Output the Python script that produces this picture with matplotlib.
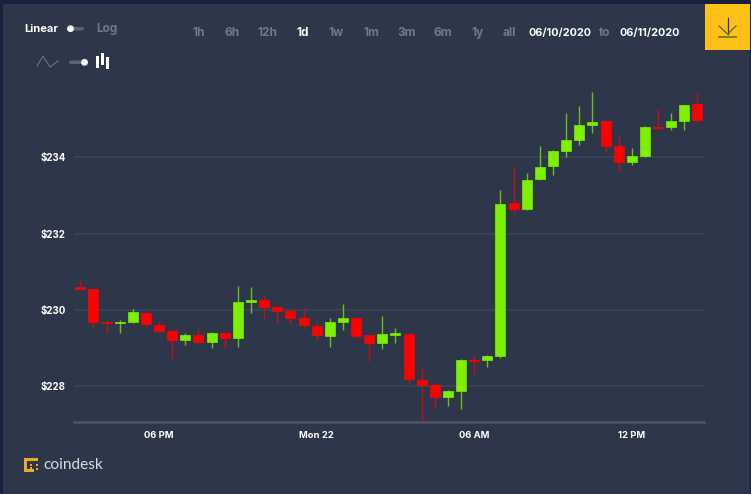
import matplotlib
matplotlib.use('Agg')
import matplotlib.pyplot as plt
from matplotlib.patches import Rectangle, FancyBboxPatch, Circle

plt.rcParams['font.family'] = ['Inter', 'DejaVu Sans']

# 30 minute candles, ETH/USD
opens = [230.61, 230.55, 229.69, 229.65, 229.68, 229.93, 229.61, 229.45,
         229.21, 229.34, 229.15, 229.39, 229.27, 230.22, 230.25, 230.07,
         229.97, 229.79, 229.59, 229.33, 229.69, 229.78, 229.34, 229.14,
         229.35, 229.37, 228.17, 228.03, 227.71, 227.88, 228.69, 228.68,
         228.79, 232.81, 232.64, 233.43, 233.77, 234.18, 234.47, 234.86,
         234.95, 234.29, 233.88, 234.05, 234.80, 234.80, 234.96, 235.40]
closes = [230.55, 229.69, 229.66, 229.69, 229.94, 229.63, 229.45, 229.21,
          229.35, 229.15, 229.39, 229.27, 230.22, 230.25, 230.08, 229.98,
          229.80, 229.60, 229.34, 229.69, 229.78, 229.32, 229.14, 229.38,
          229.39, 228.18, 228.03, 227.71, 227.88, 228.69, 228.67, 228.79,
          232.78, 232.64, 233.41, 233.76, 234.17, 234.46, 234.86, 234.93,
          234.30, 233.88, 234.05, 234.80, 234.78, 234.95, 235.37, 234.98]
highs = [230.79, 230.55, 229.76, 229.73, 230.03, 229.97, 229.71, 229.50,
         229.40, 229.53, 229.42, 229.39, 230.63, 230.59, 230.39, 230.10,
         230.03, 230.03, 229.69, 229.79, 230.16, 229.81, 229.34, 229.84,
         229.53, 229.37, 228.51, 228.09, 227.90, 228.72, 228.79, 228.82,
         233.15, 233.77, 233.59, 234.30, 234.19, 235.17, 235.35, 235.71,
         234.95, 234.59, 234.24, 234.82, 235.27, 235.17, 235.37, 235.69]
lows = [230.55, 229.52, 229.40, 229.40, 229.66, 229.56, 229.43, 228.75,
        229.09, 229.14, 228.99, 229.00, 229.03, 229.91, 229.76, 229.66,
        229.64, 229.51, 229.21, 229.03, 229.48, 229.27, 228.67, 228.98,
        229.14, 228.06, 227.09, 227.39, 227.47, 227.41, 228.33, 228.50,
        228.74, 232.54, 232.62, 233.42, 233.54, 234.01, 234.32, 234.64,
        234.14, 233.64, 233.80, 234.02, 234.71, 234.72, 234.72, 234.94]

price_ticks = [228, 230, 232, 234]
time_ticks = [6, 18, 30, 42]
time_labels = ['06 PM', 'Mon 22', '06 AM', '12 PM']
ranges = ['1h', '6h', '12h', '1d', '1w', '1m', '3m', '6m', '1y', 'all']
range_x = [199, 232, 268, 303, 336, 371, 406.5, 443, 478, 509.5]

BG = '#2e374a'
EDGE = '#18203f'
GREEN = '#7cf000'
RED = '#ff0000'
MUTED = '#72778a'
YELLOW = '#fdc016'

W, H = 751, 494
fig = plt.figure(figsize=(W / 100, H / 100), dpi=100, facecolor=BG)

# Candles
ax = fig.add_axes([74 / W, 1 - 421.7 / H, 630 / W, 331.7 / H], facecolor='none')
for i in range(len(opens)):
    col = GREEN if closes[i] >= opens[i] else RED
    ax.vlines(i, lows[i], highs[i], color=col, lw=1, alpha=0.75, zorder=3)
    ax.bar(i, closes[i] - opens[i], bottom=opens[i], width=0.76, color=col,
           edgecolor=col, lw=0.5, zorder=4)

ax.set_xlim(-0.48, 47.5)
ax.set_ylim(227.07, 235.77)
ax.set_yticks(price_ticks)
ax.set_yticklabels(['$%d' % p for p in price_ticks])
ax.set_xticks(time_ticks)
ax.set_xticklabels(time_labels)
ax.tick_params(axis='y', length=0, labelsize=7, labelcolor='white', pad=6)
ax.tick_params(axis='x', length=0, labelsize=6.8, labelcolor='white', pad=6.5)
for lab in ax.get_xticklabels() + ax.get_yticklabels():
    lab.set_fontweight('bold')
ax.grid(axis='y', color='#3a4356', lw=1.4, zorder=1)
ax.set_axisbelow(True)
for s in ['top', 'left', 'right']:
    ax.spines[s].set_visible(False)
ax.spines['bottom'].set_color('#4f5566')
ax.spines['bottom'].set_linewidth(1.8)

# Controls and logo, in pixel coordinates
ui = fig.add_axes([0, 0, 1, 1], facecolor='none')
ui.set_xlim(0, W)
ui.set_ylim(H, 0)
ui.axis('off')

ui.add_patch(Rectangle((0, 0), W, 4.5, color=EDGE, lw=0))
ui.add_patch(Rectangle((0, 0), 3, H, color=EDGE, lw=0))
ui.add_patch(Rectangle((750, 0), 1, H, color=EDGE, lw=0))

# Download button
ui.add_patch(Rectangle((705, 4.5), 45, 45.5, color=YELLOW, lw=0))
ui.plot([727.5, 727.5], [18, 34], color='#2e374a', lw=0.9)
ui.plot([719, 727.5, 736], [26, 34, 26], color='#6b6230', lw=0.9)
ui.plot([719, 736], [37, 37], color='#8a7a30', lw=1.4)

ui.text(24, 29, 'Linear', color='white', fontsize=8, fontweight='bold', va='center')
ui.text(96, 29, 'Log', color=MUTED, fontsize=8.4, fontweight='bold', va='center')
ui.add_patch(FancyBboxPatch((69, 27), 15, 3.5, boxstyle='round,pad=0,rounding_size=1.7', color='#5c6273', lw=0))
ui.add_patch(Circle((70.5, 28.7), 3.4, color='white', lw=0))

ui.plot([37, 43, 50, 58], [66, 56, 67, 61], color='#6b7182', lw=0.8)
ui.add_patch(FancyBboxPatch((69, 60.5), 17, 3.5, boxstyle='round,pad=0,rounding_size=1.7', color='#5c6273', lw=0))
ui.add_patch(Circle((84.5, 62.3), 3.4, color='white', lw=0))
ui.add_patch(Rectangle((96, 56), 3, 12, color='white', lw=0))
ui.add_patch(Rectangle((101, 53), 3, 12, color='white', lw=0))
ui.add_patch(Rectangle((106, 57), 3, 12, color='white', lw=0))

for name, x in zip(ranges, range_x):
    ui.text(x, 33, name, color='white' if name == '1d' else MUTED, fontsize=8.6,
            fontweight='bold', ha='center', va='center')
ui.text(560, 33, '06/10/2020', color='white', fontsize=7.8, fontweight='bold', ha='center', va='center')
ui.text(604.5, 33, 'to', color=MUTED, fontsize=8.4, fontweight='bold', ha='center', va='center')
ui.text(650, 33, '06/11/2020', color='white', fontsize=7.8, fontweight='bold', ha='center', va='center')

# coindesk mark: solid bars on three sides, dots inside and on the right
gold = '#e9ad22'
ui.add_patch(Rectangle((24.3, 458), 3, 14, color=gold, lw=0))
ui.add_patch(Rectangle((24.3, 458), 14, 3, color=gold, lw=0))
ui.add_patch(Rectangle((24.3, 469), 10, 3, color=gold, lw=0))
for px, py in [(30, 463.5), (30, 466.5), (35.5, 463.5), (35.5, 468)]:
    ui.add_patch(Rectangle((px, py), 2.4, 2.2, color=gold, lw=0))
ui.text(43, 464.5, 'coindesk', color='#d8dade', fontsize=11.2, family='Lato', va='center')

plt.savefig('out.png', dpi=100, facecolor=BG)
